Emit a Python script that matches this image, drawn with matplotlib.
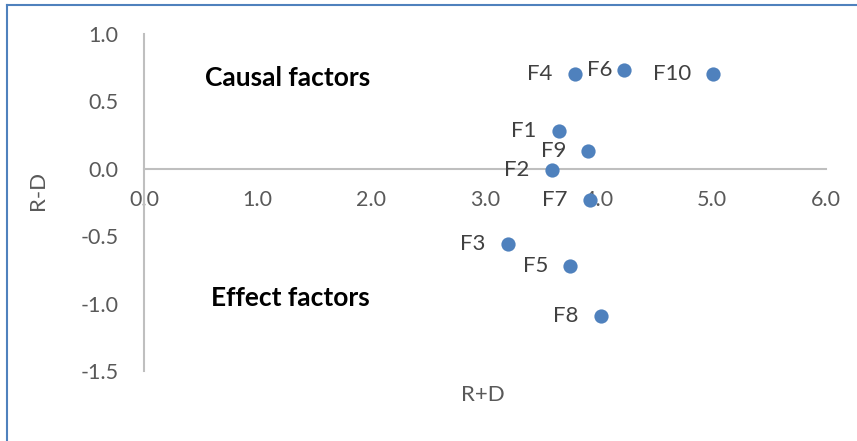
"""Scatter of R+D vs R-D for factors F1..F10 (cause/effect diagram)."""

import matplotlib.pyplot as plt
from matplotlib.lines import Line2D

labels = ["F1", "F2", "F3", "F4", "F5", "F6", "F7", "F8", "F9", "F10"]
r_plus_d = [3.65, 3.59, 3.20, 3.79, 3.75, 4.22, 3.92, 4.02, 3.91, 5.01]
r_minus_d = [0.28, -0.01, -0.56, 0.705, -0.72, 0.735, -0.235, -1.09, 0.135, 0.705]

x_ticks = [0.0, 1.0, 2.0, 3.0, 4.0, 5.0, 6.0]
y_ticks = [-1.5, -1.0, -0.5, 0.0, 0.5, 1.0]

W, H = 857, 441
AXIS_GREY = "#BFBFBF"
TEXT_GREY = "#595959"
BLUE = "#4F81BD"

plt.rcParams["font.family"] = ["Lato", "DejaVu Sans"]

fig = plt.figure(figsize=(W / 100, H / 100), dpi=100)
ax = fig.add_axes([144 / W, 1 - 371 / H, (826 - 144) / W, (371 - 34) / H])

ax.scatter(r_plus_d, r_minus_d, s=105, color=BLUE, zorder=3, linewidths=0)

# label offsets in points (Excel nudged F6 closer to its marker)
offsets = {"F6": -8}
for lab, x, y in zip(labels, r_plus_d, r_minus_d):
    ax.annotate(lab, (x, y), xytext=(offsets.get(lab, -16), 0),
                textcoords="offset points", ha="right", va="center",
                fontsize=16, color="#404040", zorder=4)

ax.set_xlim(0, 6)
ax.set_ylim(-1.5, 1.0)
ax.set_xticks(x_ticks)
ax.set_yticks(y_ticks)
ax.set_xticklabels([f"{v:.1f}" for v in x_ticks])
ax.set_yticklabels([f"{v:.1f}" for v in y_ticks])

for side in ("top", "right"):
    ax.spines[side].set_visible(False)
ax.spines["left"].set_position(("data", 0))
ax.spines["bottom"].set_position(("data", 0))
for side in ("left", "bottom"):
    ax.spines[side].set_color(AXIS_GREY)
    ax.spines[side].set_linewidth(1.5)
ax.tick_params(length=0, labelsize=15.5, labelcolor=TEXT_GREY)
ax.tick_params(axis="x", pad=15)
ax.tick_params(axis="y", pad=18.5)

ax.text(0.536, 0.675, "Causal factors", fontsize=19, fontweight="bold", ha="left", va="center")
ax.text(0.589, -0.957, "Effect factors", fontsize=19, fontweight="bold", ha="left", va="center")

fig.text(38 / W, 1 - 190 / H, "R-D", rotation=90, ha="center", va="center",
         fontsize=16, color=TEXT_GREY)
fig.text(483 / W, 1 - 395 / H, "R+D", ha="center", va="center",
         fontsize=16, color=TEXT_GREY)

# chart-area frame: only the top and left edges are visible in the crop
fig.add_artist(Line2D([7.5 / W, 7.5 / W], [0, 1 - 4.5 / H], transform=fig.transFigure,
                      color="#4F81BD", lw=1.5))
fig.add_artist(Line2D([7.5 / W, 1], [1 - 4.5 / H, 1 - 4.5 / H], transform=fig.transFigure,
                      color="#4F81BD", lw=1.5))

fig.savefig("out.png", dpi=100)
